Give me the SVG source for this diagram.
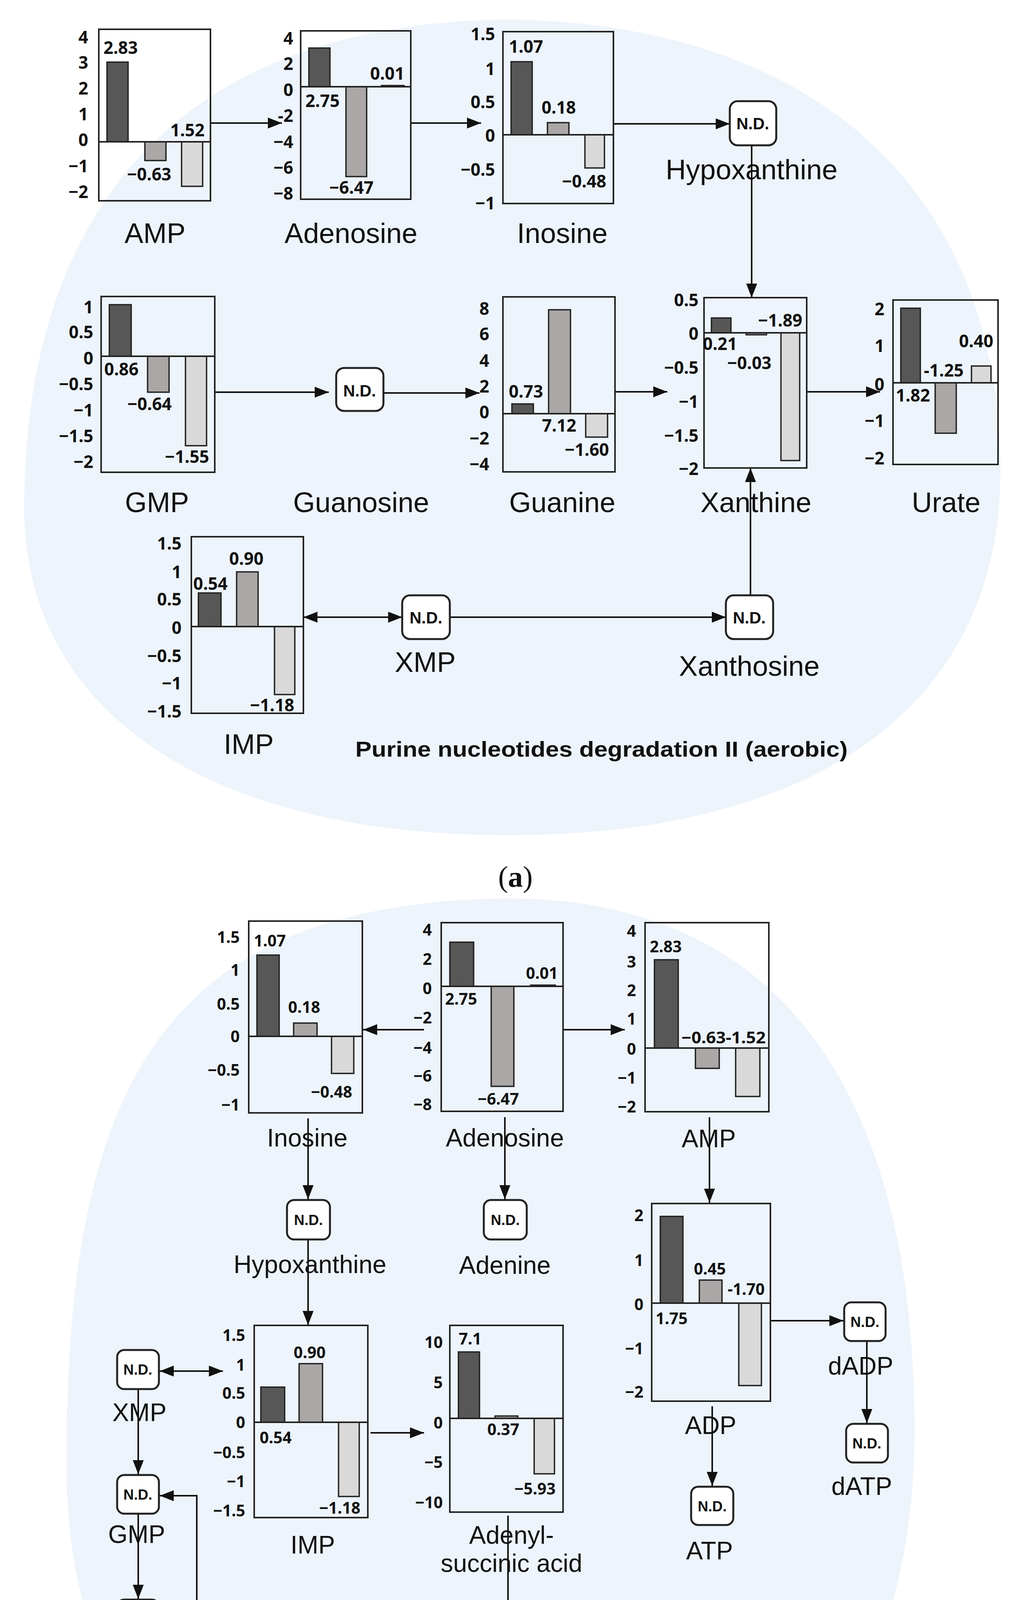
<svg xmlns="http://www.w3.org/2000/svg" width="2602" height="4954" viewBox="0 0 2602 4954">
<style>
.bg{fill:#edf4fb}
.box{fill:none;stroke:#222;stroke-width:4}
.z{stroke:#222;stroke-width:4}
.b1{fill:#575757;stroke:#222;stroke-width:3.5}
.b2{fill:#aba7a7;stroke:#222;stroke-width:3.5}
.b3{fill:#d9d9d9;stroke:#222;stroke-width:3.5}
.tk{font-family:"Noto Sans","Liberation Sans",sans-serif;font-size:44px;font-weight:bold;fill:#111;text-anchor:end}
.tkb{font-family:"Noto Sans","Liberation Sans",sans-serif;font-size:41px;font-weight:bold;fill:#111;text-anchor:end}
.vl{font-family:"Noto Sans","Liberation Sans",sans-serif;font-size:44px;font-weight:bold;fill:#111;text-anchor:middle}
.vlb{font-family:"Noto Sans","Liberation Sans",sans-serif;font-size:41px;font-weight:bold;fill:#111;text-anchor:middle}
.lb{font-family:"Liberation Sans",Arial,sans-serif;font-size:72px;fill:#111;text-anchor:middle}
.lbb{font-family:"Liberation Sans",Arial,sans-serif;font-size:64px;fill:#111;text-anchor:middle}
.nd{fill:#fff;stroke:#222;stroke-width:5}
.ndt{font-family:"Liberation Sans",Arial,sans-serif;font-size:42px;font-weight:bold;fill:#111;text-anchor:middle}
.ndtb{font-family:"Liberation Sans",Arial,sans-serif;font-size:37px;font-weight:bold;fill:#111;text-anchor:middle}
.ttl{font-family:"Liberation Sans",Arial,sans-serif;font-weight:bold;fill:#111}
.cap{font-family:"Liberation Serif","Times New Roman",serif;font-size:76px;fill:#111;text-anchor:middle}
.ln{stroke:#111;stroke-width:4;fill:none}
</style>
<defs>
<marker id="ah" markerUnits="userSpaceOnUse" markerWidth="40" markerHeight="32" refX="36" refY="14" orient="auto-start-reverse"><path d="M0,0 L36,14 L0,28 z" fill="#111"/></marker>
</defs>
<path class="bg" d="M62,1301 C62,600 400,60 1301,50 C2100,60 2560,500 2562,1200 C2565,1800 2100,2138 1301,2138 C500,2138 62,1800 62,1301 Z"/>
<path class="bg" d="M170,3750 C170,2800 400,2310 1301,2300 C2000,2300 2340,2800 2342,3650 C2345,4400 1950,4806 1301,4806 C600,4806 170,4450 170,3750 Z"/>

<g id="connectors">
<path class="ln" marker-end="url(#ah)" d="M539,315 H722"/>
<path class="ln" marker-end="url(#ah)" d="M1052,315 H1232"/>
<path class="ln" marker-end="url(#ah)" d="M1571,317 H1869"/>
<path class="ln" marker-end="url(#ah)" d="M1925,372 V762"/>
<path class="ln" marker-end="url(#ah)" d="M550,1004 H842"/>
<path class="ln" marker-end="url(#ah)" d="M982,1006 H1228"/>
<path class="ln" marker-end="url(#ah)" d="M1575,1003 H1709"/>
<path class="ln" marker-end="url(#ah)" d="M2066,1003 H2254"/>
<path class="ln" marker-start="url(#ah)" marker-end="url(#ah)" d="M777,1580 H1030"/>
<path class="ln" marker-end="url(#ah)" d="M1152,1580 H1859"/>
<path class="ln" marker-end="url(#ah)" d="M1922,1524 V1198"/>

<path class="ln" marker-end="url(#ah)" d="M1086,2636 H930"/>
<path class="ln" marker-end="url(#ah)" d="M1444,2636 H1600"/>
<path class="ln" marker-end="url(#ah)" d="M789,2863 V3070"/>
<path class="ln" marker-end="url(#ah)" d="M789,3173 V3392"/>
<path class="ln" marker-end="url(#ah)" d="M1293,2860 V3070"/>
<path class="ln" marker-end="url(#ah)" d="M1817,2860 V3079"/>
<path class="ln" marker-end="url(#ah)" d="M1975,3381 H2160"/>
<path class="ln" marker-end="url(#ah)" d="M2220,3433 V3643"/>
<path class="ln" marker-end="url(#ah)" d="M1824,3600 V3804"/>
<path class="ln" marker-end="url(#ah)" d="M949,3668 H1086"/>
<path class="ln" marker-end="url(#ah)" d="M1301,3880 V4315"/>
<path class="ln" marker-end="url(#ah)" d="M1245,4367 H963"/>
<path class="ln" marker-end="url(#ah)" d="M657,4306 H504 V3829 H409"/>
<path class="ln" marker-start="url(#ah)" marker-end="url(#ah)" d="M409,3510 H571"/>
<path class="ln" marker-end="url(#ah)" d="M354,3556 V3774"/>
<path class="ln" marker-end="url(#ah)" d="M354,3875 V4093"/>
<path class="ln" marker-end="url(#ah)" d="M354,4194 V4414"/>
</g>

<!-- Panel a -->
<g id="a-amp">
<rect class="box" x="253" y="75" width="286" height="439"/>
<rect class="b1" x="274" y="159" width="54" height="204"/>
<rect class="b2" x="371" y="363" width="54" height="48"/>
<rect class="b3" x="465" y="363" width="54" height="114"/>
<line class="z" x1="253" y1="363" x2="539" y2="363"/>
<text class="tk" x="226" y="111">4</text><text class="tk" x="226" y="176">3</text><text class="tk" x="226" y="242">2</text><text class="tk" x="226" y="308">1</text><text class="tk" x="226" y="374">0</text><text class="tk" x="226" y="441">−1</text><text class="tk" x="226" y="507">−2</text>
<text class="vl" x="309" y="138">2.83</text><text class="vl" x="382" y="462">−0.63</text><text class="vl" x="480" y="349">1.52</text>
<text class="lb" x="397" y="622">AMP</text>
</g>
<g id="a-adenosine">
<rect class="box" x="770" y="79" width="282" height="431"/>
<rect class="b1" x="791" y="123" width="54" height="99"/>
<rect class="b2" x="886" y="222" width="53" height="230"/>
<rect class="b3" x="977" y="219" width="58" height="3"/>
<line class="z" x1="770" y1="222" x2="1052" y2="222"/>
<text class="tk" x="751" y="114">4</text><text class="tk" x="751" y="179">2</text><text class="tk" x="751" y="246">0</text><text class="tk" x="751" y="312">-2</text><text class="tk" x="751" y="379">−4</text><text class="tk" x="751" y="445">−6</text><text class="tk" x="751" y="511">−8</text>
<text class="vl" x="826" y="274">2.75</text><text class="vl" x="900" y="496">−6.47</text><text class="vl" x="992" y="204">0.01</text>
<text class="lb" x="899" y="622">Adenosine</text>
</g>
<g id="a-inosine">
<rect class="box" x="1288" y="81" width="283" height="440"/>
<rect class="b1" x="1309" y="158" width="54" height="187"/>
<rect class="b2" x="1402" y="314" width="55" height="31"/>
<rect class="b3" x="1498" y="345" width="50" height="85"/>
<line class="z" x1="1288" y1="345" x2="1571" y2="345"/>
<text class="tk" x="1268" y="103">1.5</text><text class="tk" x="1268" y="192">1</text><text class="tk" x="1268" y="277">0.5</text><text class="tk" x="1268" y="363">0</text><text class="tk" x="1268" y="450">−0.5</text><text class="tk" x="1268" y="536">−1</text>
<text class="vl" x="1347" y="135">1.07</text><text class="vl" x="1431" y="291">0.18</text><text class="vl" x="1496" y="480">−0.48</text>
<text class="lb" x="1440" y="622">Inosine</text>
</g>
<g id="a-hypoxanthine">
<rect class="nd" x="1869" y="259" width="119" height="113" rx="20"/>
<text class="ndt" x="1928" y="331">N.D.</text>
<text class="lb" x="1925" y="459">Hypoxanthine</text>
</g>
<g id="a-gmp">
<rect class="box" x="259" y="759" width="291" height="450"/>
<rect class="b1" x="280" y="780" width="56" height="132"/>
<rect class="b2" x="378" y="912" width="55" height="92"/>
<rect class="b3" x="475" y="912" width="54" height="229"/>
<line class="z" x1="259" y1="912" x2="550" y2="912"/>
<text class="tk" x="239" y="802">1</text><text class="tk" x="239" y="866">0.5</text><text class="tk" x="239" y="933">0</text><text class="tk" x="239" y="999">−0.5</text><text class="tk" x="239" y="1066">−1</text><text class="tk" x="239" y="1132">−1.5</text><text class="tk" x="239" y="1198">−2</text>
<text class="vl" x="311" y="961">0.86</text><text class="vl" x="383" y="1050">−0.64</text><text class="vl" x="479" y="1185">−1.55</text>
<text class="lb" x="402" y="1311">GMP</text>
</g>
<g id="a-guanosine">
<rect class="nd" x="861" y="942" width="121" height="110" rx="20"/>
<text class="ndt" x="921" y="1015">N.D.</text>
<text class="lb" x="925" y="1311">Guanosine</text>
</g>
<g id="a-guanine">
<rect class="box" x="1288" y="760" width="287" height="448"/>
<rect class="b1" x="1311" y="1034" width="55" height="25"/>
<rect class="b2" x="1405" y="793" width="56" height="266"/>
<rect class="b3" x="1500" y="1059" width="56" height="60"/>
<line class="z" x1="1288" y1="1059" x2="1575" y2="1059"/>
<text class="tk" x="1253" y="806">8</text><text class="tk" x="1253" y="871">6</text><text class="tk" x="1253" y="939">4</text><text class="tk" x="1253" y="1005">2</text><text class="tk" x="1253" y="1071">0</text><text class="tk" x="1253" y="1138">−2</text><text class="tk" x="1253" y="1204">−4</text>
<text class="vl" x="1347" y="1018">0.73</text><text class="vl" x="1432" y="1105">7.12</text><text class="vl" x="1503" y="1167">−1.60</text>
<text class="lb" x="1440" y="1311">Guanine</text>
</g>
<g id="a-xanthine">
<rect class="box" x="1803" y="762" width="263" height="436"/>
<rect class="b1" x="1822" y="814" width="50" height="38"/>
<rect class="b2" x="1911" y="852" width="52" height="5"/>
<rect class="b3" x="2000" y="852" width="48" height="327"/>
<line class="z" x1="1803" y1="852" x2="2066" y2="852"/>
<text class="tk" x="1789" y="784">0.5</text><text class="tk" x="1789" y="870">0</text><text class="tk" x="1789" y="957">−0.5</text><text class="tk" x="1789" y="1044">−1</text><text class="tk" x="1789" y="1131">−1.5</text><text class="tk" x="1789" y="1216">−2</text>
<text class="vl" x="1998" y="836">−1.89</text><text class="vl" x="1844" y="896">0.21</text><text class="vl" x="1919" y="945">−0.03</text>
<text class="lb" x="1936" y="1311">Xanthine</text>
</g>
<g id="a-urate">
<rect class="box" x="2287" y="768" width="269" height="421"/>
<rect class="b1" x="2307" y="789" width="50" height="191"/>
<rect class="b2" x="2395" y="980" width="54" height="129"/>
<rect class="b3" x="2488" y="937" width="50" height="43"/>
<line class="z" x1="2287" y1="980" x2="2556" y2="980"/>
<text class="tk" x="2265" y="807">2</text><text class="tk" x="2265" y="901">1</text><text class="tk" x="2265" y="1000">0</text><text class="tk" x="2265" y="1093">−1</text><text class="tk" x="2265" y="1189">−2</text>
<text class="vl" x="2500" y="889">0.40</text><text class="vl" x="2417" y="964">-1.25</text><text class="vl" x="2338" y="1028">1.82</text>
<text class="lb" x="2423" y="1311">Urate</text>
</g>
<g id="a-imp">
<rect class="box" x="490" y="1374" width="287" height="452"/>
<rect class="b1" x="508" y="1518" width="58" height="86"/>
<rect class="b2" x="606" y="1464" width="55" height="140"/>
<rect class="b3" x="703" y="1604" width="52" height="174"/>
<line class="z" x1="490" y1="1604" x2="777" y2="1604"/>
<text class="tk" x="465" y="1407">1.5</text><text class="tk" x="465" y="1480">1</text><text class="tk" x="465" y="1550">0.5</text><text class="tk" x="465" y="1623">0</text><text class="tk" x="465" y="1695">−0.5</text><text class="tk" x="465" y="1765">−1</text><text class="tk" x="465" y="1837">−1.5</text>
<text class="vl" x="539" y="1510">0.54</text><text class="vl" x="631" y="1446">0.90</text><text class="vl" x="697" y="1821">−1.18</text>
<text class="lb" x="637" y="1930">IMP</text>
</g>
<g id="a-xmp">
<rect class="nd" x="1030" y="1524" width="122" height="112" rx="20"/>
<text class="ndt" x="1091" y="1596">N.D.</text>
<text class="lb" x="1089" y="1720">XMP</text>
</g>
<g id="a-xanthosine">
<rect class="nd" x="1859" y="1524" width="121" height="112" rx="20"/>
<text class="ndt" x="1919" y="1596">N.D.</text>
<text class="lb" x="1919" y="1730">Xanthosine</text>
</g>
<text class="ttl" x="910" y="1937" font-size="56" textLength="1261" lengthAdjust="spacingAndGlyphs">Purine nucleotides degradation II (aerobic)</text>
<text class="cap" x="1320" y="2270">(<tspan font-weight="bold">a</tspan>)</text>

<!-- Panel b -->
<g id="b-inosine">
<rect class="box" x="637" y="2358" width="291" height="491"/>
<rect class="b1" x="658" y="2445" width="57" height="208"/>
<rect class="b2" x="752" y="2619" width="60" height="34"/>
<rect class="b3" x="849" y="2653" width="57" height="95"/>
<line class="z" x1="637" y1="2653" x2="928" y2="2653"/>
<text class="tkb" x="614" y="2414">1.5</text><text class="tkb" x="614" y="2498">1</text><text class="tkb" x="614" y="2585">0.5</text><text class="tkb" x="614" y="2668">0</text><text class="tkb" x="614" y="2754">−0.5</text><text class="tkb" x="614" y="2843">−1</text>
<text class="vlb" x="691" y="2423">1.07</text><text class="vlb" x="779" y="2593">0.18</text><text class="vlb" x="849" y="2810">−0.48</text>
<text class="lbb" x="787" y="2935">Inosine</text>
</g>
<g id="b-adenosine">
<rect class="box" x="1130" y="2362" width="312" height="483"/>
<rect class="b1" x="1152" y="2412" width="61" height="113"/>
<rect class="b2" x="1258" y="2525" width="58" height="256"/>
<rect class="b3" x="1359" y="2522" width="63" height="3"/>
<line class="z" x1="1130" y1="2525" x2="1442" y2="2525"/>
<text class="tkb" x="1106" y="2395">4</text><text class="tkb" x="1106" y="2470">2</text><text class="tkb" x="1106" y="2545">0</text><text class="tkb" x="1106" y="2620">−2</text><text class="tkb" x="1106" y="2697">−4</text><text class="tkb" x="1106" y="2769">−6</text><text class="tkb" x="1106" y="2842">−8</text>
<text class="vlb" x="1181" y="2572">2.75</text><text class="vlb" x="1276" y="2828">−6.47</text><text class="vlb" x="1388" y="2506">0.01</text>
<text class="lbb" x="1293" y="2935">Adenosine</text>
</g>
<g id="b-amp">
<rect class="box" x="1652" y="2362" width="317" height="484"/>
<rect class="b1" x="1676" y="2457" width="61" height="226"/>
<rect class="b2" x="1781" y="2683" width="61" height="52"/>
<rect class="b3" x="1884" y="2683" width="62" height="124"/>
<line class="z" x1="1652" y1="2683" x2="1969" y2="2683"/>
<text class="tkb" x="1629" y="2398">4</text><text class="tkb" x="1629" y="2477">3</text><text class="tkb" x="1629" y="2550">2</text><text class="tkb" x="1629" y="2623">1</text><text class="tkb" x="1629" y="2700">0</text><text class="tkb" x="1629" y="2774">−1</text><text class="tkb" x="1629" y="2848">−2</text>
<text class="vlb" x="1705" y="2438">2.83</text><text class="vlb" x="1853" y="2671" textLength="216" lengthAdjust="spacingAndGlyphs">−0.63-1.52</text>
<text class="lbb" x="1815" y="2937">AMP</text>
</g>
<g id="b-hypoxanthine">
<rect class="nd" x="735" y="3072" width="110" height="101" rx="18"/>
<text class="ndtb" x="790" y="3136">N.D.</text>
<text class="lbb" x="794" y="3259">Hypoxanthine</text>
</g>
<g id="b-adenine">
<rect class="nd" x="1239" y="3072" width="110" height="101" rx="18"/>
<text class="ndtb" x="1294" y="3136">N.D.</text>
<text class="lbb" x="1293" y="3261">Adenine</text>
</g>
<g id="b-adp">
<rect class="box" x="1669" y="3081" width="304" height="506"/>
<rect class="b1" x="1691" y="3114" width="58" height="222"/>
<rect class="b2" x="1791" y="3277" width="58" height="59"/>
<rect class="b3" x="1892" y="3336" width="58" height="211"/>
<line class="z" x1="1669" y1="3336" x2="1973" y2="3336"/>
<text class="tkb" x="1648" y="3126">2</text><text class="tkb" x="1648" y="3241">1</text><text class="tkb" x="1648" y="3354">0</text><text class="tkb" x="1648" y="3467">−1</text><text class="tkb" x="1648" y="3578">−2</text>
<text class="vlb" x="1818" y="3263">0.45</text><text class="vlb" x="1911" y="3315">-1.70</text><text class="vlb" x="1720" y="3390">1.75</text>
<text class="lbb" x="1820" y="3671">ADP</text>
</g>
<g id="b-dadp">
<rect class="nd" x="2162" y="3334" width="106" height="99" rx="18"/>
<text class="ndtb" x="2215" y="3397">N.D.</text>
<text class="lbb" x="2204" y="3519">dADP</text>
</g>
<g id="b-datp">
<rect class="nd" x="2167" y="3645" width="107" height="99" rx="18"/>
<text class="ndtb" x="2220" y="3708">N.D.</text>
<text class="lbb" x="2207" y="3827">dATP</text>
</g>
<g id="b-atp">
<rect class="nd" x="1770" y="3806" width="108" height="98" rx="18"/>
<text class="ndtb" x="1824" y="3869">N.D.</text>
<text class="lbb" x="1817" y="3992">ATP</text>
</g>
<g id="b-imp">
<rect class="box" x="651" y="3393" width="291" height="492"/>
<rect class="b1" x="668" y="3551" width="61" height="90"/>
<rect class="b2" x="766" y="3491" width="60" height="150"/>
<rect class="b3" x="867" y="3641" width="53" height="190"/>
<line class="z" x1="651" y1="3641" x2="942" y2="3641"/>
<text class="tkb" x="628" y="3433">1.5</text><text class="tkb" x="628" y="3509">1</text><text class="tkb" x="628" y="3581">0.5</text><text class="tkb" x="628" y="3656">0</text><text class="tkb" x="628" y="3733">−0.5</text><text class="tkb" x="628" y="3807">−1</text><text class="tkb" x="628" y="3882">−1.5</text>
<text class="vlb" x="793" y="3477">0.90</text><text class="vlb" x="706" y="3695">0.54</text><text class="vlb" x="870" y="3875">−1.18</text>
<text class="lbb" x="801" y="3977">IMP</text>
</g>
<g id="b-adenylsuccinic">
<rect class="box" x="1152" y="3393" width="290" height="478"/>
<rect class="b1" x="1174" y="3461" width="54" height="170"/>
<rect class="b2" x="1268" y="3625" width="58" height="6"/>
<rect class="b3" x="1368" y="3631" width="52" height="142"/>
<line class="z" x1="1152" y1="3631" x2="1442" y2="3631"/>
<text class="tkb" x="1134" y="3451">10</text><text class="tkb" x="1134" y="3554">5</text><text class="tkb" x="1134" y="3657">0</text><text class="tkb" x="1134" y="3758">−5</text><text class="tkb" x="1134" y="3861">−10</text>
<text class="vlb" x="1204" y="3442">7.1</text><text class="vlb" x="1289" y="3674">0.37</text><text class="vlb" x="1370" y="3826">−5.93</text>
<text class="lbb" x="1310" y="3952">Adenyl-</text>
<text class="lbb" x="1310" y="4024">succinic acid</text>
</g>
<g id="b-guanine">
<rect class="box" x="657" y="4104" width="304" height="491"/>
<rect class="b1" x="679" y="4404" width="58" height="26"/>
<rect class="b2" x="779" y="4138" width="60" height="292"/>
<rect class="b3" x="881" y="4430" width="59" height="67"/>
<line class="z" x1="657" y1="4430" x2="961" y2="4430"/>
<text class="tkb" x="632" y="4138">8</text><text class="tkb" x="632" y="4211">6</text><text class="tkb" x="632" y="4286">4</text><text class="tkb" x="632" y="4361">2</text><text class="tkb" x="632" y="4437">0</text><text class="tkb" x="632" y="4512">−2</text><text class="tkb" x="632" y="4586">−4</text>
<text class="vlb" x="710" y="4377">0.73</text><text class="vlb" x="808" y="4491">7.12</text><text class="vlb" x="903" y="4553">−1.6</text>
<text class="lbb" x="801" y="4678">Guanine</text>
</g>
<g id="b-guanosine">
<rect class="nd" x="1245" y="4317" width="106" height="99" rx="18"/>
<text class="ndtb" x="1298" y="4380">N.D.</text>
<text class="lbb" x="1301" y="4491">Guanosine</text>
</g>
<g id="b-xmp">
<rect class="nd" x="300" y="3456" width="107" height="100" rx="18"/>
<text class="ndtb" x="353" y="3519">N.D.</text>
<text class="lbb" x="357" y="3638">XMP</text>
</g>
<g id="b-gmp">
<rect class="nd" x="300" y="3776" width="107" height="99" rx="18"/>
<text class="ndtb" x="353" y="3839">N.D.</text>
<text class="lbb" x="350" y="3950">GMP</text>
</g>
<g id="b-gdp">
<rect class="nd" x="300" y="4095" width="107" height="99" rx="18"/>
<text class="ndtb" x="353" y="4158">N.D.</text>
<text class="lbb" x="353" y="4277">GDP</text>
</g>
<g id="b-gtp">
<rect class="nd" x="300" y="4416" width="107" height="102" rx="18"/>
<text class="ndtb" x="353" y="4480">N.D.</text>
<text class="lbb" x="355" y="4599">GTP</text>
</g>
<text class="ttl" x="1641" y="4259" font-size="48" textLength="627" lengthAdjust="spacingAndGlyphs">Superpathway of purine</text>
<text class="ttl" x="1641" y="4327" font-size="48" textLength="494" lengthAdjust="spacingAndGlyphs">nucleotide  salvage</text>
<text class="cap" x="1324" y="4898">(<tspan font-weight="bold">b</tspan>)</text>
</svg>
